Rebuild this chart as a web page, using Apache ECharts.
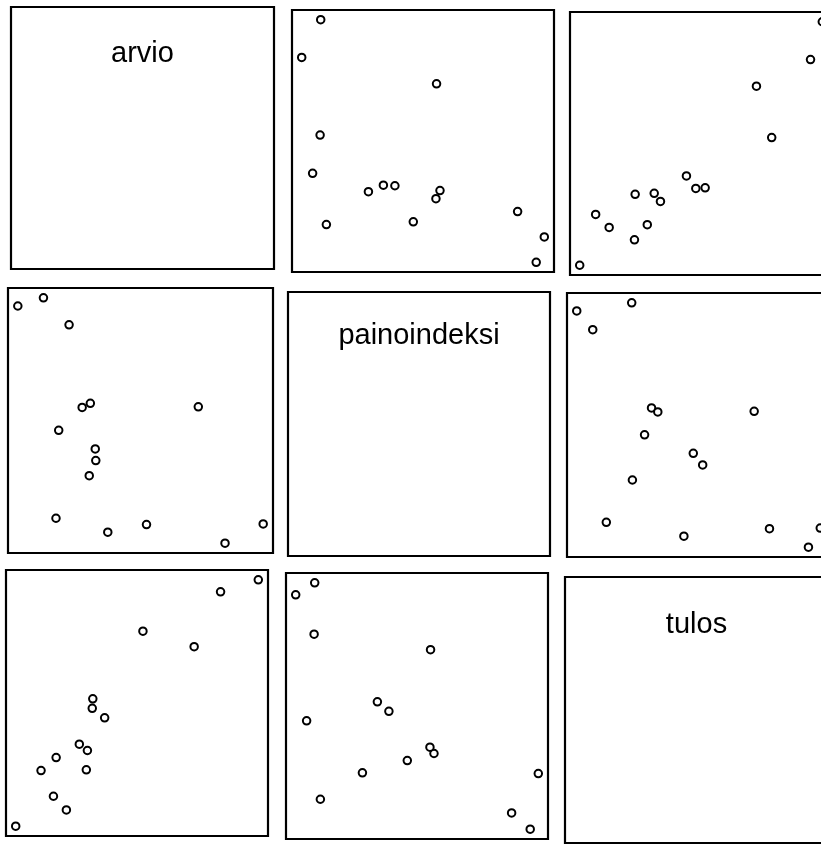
<!DOCTYPE html>
<html>
<head>
<meta charset="utf-8">
<script src="https://cdn.jsdelivr.net/npm/echarts@6/dist/echarts.min.js"></script>
<style>html,body{margin:0;padding:0;background:#fff;overflow:hidden;width:821px;height:845px;}#c{width:850px;height:845px;}</style>
</head>
<body>
<div id="c"></div>
<script>
const varNames = ['arvio', 'painoindeksi', 'tulos'];
const arvio = [95.0, 88.0, 83.1, 73.6, 66.5, 64.3, 64.2, 63.1, 63.3, 61.8, 59.4, 57.5, 57.0, 54.7, 50.0];
const painoindeksi = [19.94, 19.00, 25.67, 19.91, 19.54, 23.04, 23.61, 22.30, 25.84, 25.64, 29.68, 24.52, 20.22, 31.00, 30.60];
const tulos = [90.0, 86.6, 71.0, 75.4, 50.8, 56.2, 53.5, 36.0, 41.5, 43.3, 24.6, 39.5, 28.5, 35.8, 20.0];

// ---- layout (panel rectangles: [left, top, width, height]) ----
const panelRects = [
  [[11, 7, 263, 262], [292, 10, 262, 262], [570, 12, 262, 263]],
  [[8, 288, 265, 265], [288, 292, 262, 264], [567, 293, 263, 264]],
  [[6, 570, 262, 266], [286, 573, 262, 266], [565, 577, 263, 266]]
];
const labelOffset = [47, 44, 48];

const vars = [arvio, painoindeksi, tulos];
function range(a) {
  const mn = Math.min(...a), mx = Math.max(...a), p = (mx - mn) * 0.04;
  return [mn - p, mx + p];
}
const ranges = vars.map(range);

const grid = [], xAxis = [], yAxis = [], series = [], graphic = [];
let gi = 0;
for (let r = 0; r < 3; r++) {
  for (let c = 0; c < 3; c++) {
    const [l, t, w, h] = panelRects[r][c];
    grid.push({left: l, top: t, width: w, height: h, show: true,
      borderColor: '#000', borderWidth: 2.2, backgroundColor: 'transparent'});
    xAxis.push({type: 'value', gridIndex: gi, min: ranges[c][0], max: ranges[c][1], show: false});
    yAxis.push({type: 'value', gridIndex: gi, min: ranges[r][0], max: ranges[r][1], show: false});
    if (r !== c) {
      const xs = vars[c], ys = vars[r];
      series.push({
        type: 'scatter', xAxisIndex: gi, yAxisIndex: gi,
        symbol: 'emptyCircle', symbolSize: 7.5,
        itemStyle: {color: '#000', borderColor: '#000', borderWidth: 2.3, opacity: 1},
        data: xs.map((x, i) => [x, ys[i]]),
        silent: true, animation: false, clip: false
      });
    } else {
      graphic.push({
        type: 'text', x: l + w / 2, y: t + labelOffset[r],
        style: {text: varNames[r], fill: '#000', font: '29px "Liberation Sans", Arial, sans-serif',
          textAlign: 'center', textVerticalAlign: 'middle'}
      });
    }
    gi++;
  }
}

const chart = echarts.init(document.getElementById('c'), null, {renderer: 'canvas'});
chart.setOption({animation: false, backgroundColor: '#fff', grid, xAxis, yAxis, series, graphic});
</script>
</body>
</html>
